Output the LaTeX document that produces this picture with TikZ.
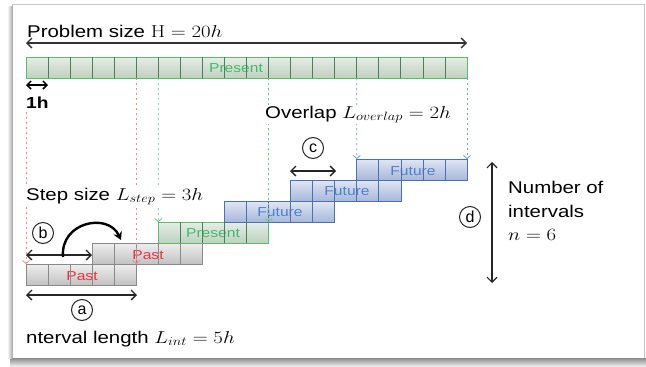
\documentclass[tikz,border=0pt]{standalone}
\usepackage[no-math]{fontspec}
\setmainfont{Liberation Sans}
\usetikzlibrary{arrows.meta,calc}
\definecolor{pastline}{HTML}{8A8A8A}
\definecolor{pasttop}{HTML}{EEEEEE}
\definecolor{pastbot}{HTML}{C2C2C2}
\definecolor{presline}{HTML}{5DBB6C}
\definecolor{prestop}{HTML}{E6EDE6}
\definecolor{presbot}{HTML}{BFD1BF}
\definecolor{presgrid}{HTML}{4A7F58}
\definecolor{futline}{HTML}{4B70B6}
\definecolor{futtop}{HTML}{E0E6F3}
\definecolor{futbot}{HTML}{A8B8DA}
\definecolor{pasttxt}{HTML}{E8343E}
\definecolor{prestxt}{HTML}{3DBB6A}
\definecolor{futtxt}{HTML}{4F7FCF}
\definecolor{reddash}{HTML}{F08A8A}
\definecolor{greendash}{HTML}{6CC490}
\definecolor{bluedash}{HTML}{6FA0D8}
\newcommand\wide[1]{\scalebox{1.2}[1]{#1}}
\def\cw{22.05}
\newcommand\cellgrid[3]{\foreach \k in {1,...,#2}{\draw[#3] ($(#1.north west)+(\k*\cw,0)$) -- ($(#1.south west)+(\k*\cw,0)$);}}
\begin{document}
\begin{tikzpicture}[x=1pt,y=-1pt,
  cellbox/.style={rectangle,inner sep=0pt,outer sep=0pt,anchor=north west,minimum width=110.25pt,minimum height=21pt,line width=0.7pt},
  pastbox/.style={cellbox,draw=pastline,top color=pasttop,bottom color=pastbot},
  presbox/.style={cellbox,draw=presline,top color=prestop,bottom color=presbot},
  futbox/.style={cellbox,draw=futline,top color=futtop,bottom color=futbot},
  bartxt/.style={font=\fontsize{13}{15}\selectfont,inner sep=0pt},
  lbl/.style={font=\fontsize{17}{20}\selectfont,anchor=base west,inner sep=1pt,fill=white},
  circ/.style={circle,draw=black!85,line width=1pt,minimum size=21pt,inner sep=0pt,font=\fontsize{16}{16}\selectfont},
  dbl/.style={{Straight Barb[length=5pt,width=10pt]}-{Straight Barb[length=5pt,width=10pt]},line width=1.4pt,draw=black!85},
  vline/.style={line width=0.8pt,dash pattern=on 2pt off 3pt,-{Straight Barb[length=3pt,width=7pt]}}
]
\useasboundingbox (0,0) rectangle (646,367);
% frame
\fill[white] (0,0) rectangle (646,367);
\shade[top color=black!45,bottom color=black!8] (10,358) rectangle (646,366);
\shade[left color=black!5,right color=black!30] (8,6) rectangle (12,358);
\draw[black!22,line width=1pt] (12,4.5) -- (644,4.5) -- (644,358);
\draw[black!30,line width=0.8pt] (12,4.5) -- (12,358);

% top bar
\node[cellbox,minimum width=441pt,draw=presline,top color=prestop,bottom color=presbot] (bar) at (26,57) {};
\node[bartxt,text=prestxt] (barlbl) at (236,68) {\wide{Present}};
\cellgrid{bar}{19}{presgrid,line width=0.8pt}

% intervals
\node[pastbox] (i1) at (26,264) {};
\node[pastbox] (i2) at (92.15,243) {};
\node[presbox] (i3) at (158.3,222) {};
\node[futbox] (i4) at (224.45,201) {};
\node[futbox] (i5) at (290.6,180) {};
\node[futbox] (i6) at (356.75,159) {};
\node[bartxt,text=pasttxt] (l1) at (82,276) {\wide{Past}};
\node[bartxt,text=pasttxt] (l2) at (148,255) {\wide{Past}};
\node[bartxt,text=prestxt] (l3) at (213,233) {\wide{Present}};
\node[bartxt,text=futtxt] (l4) at (280,212) {\wide{Future}};
\node[bartxt,text=futtxt] (l5) at (347,191) {\wide{Future}};
\node[bartxt,text=futtxt] (l6) at (413,171) {\wide{Future}};
\cellgrid{i1}{4}{pastline,line width=0.7pt}
\cellgrid{i2}{4}{pastline,line width=0.7pt}
\cellgrid{i3}{4}{presgrid,line width=0.7pt}
\cellgrid{i4}{4}{futline,line width=0.7pt}
\cellgrid{i5}{4}{futline,line width=0.7pt}
\cellgrid{i6}{4}{futline,line width=0.7pt}

% alignment lines
\coordinate (r1) at (26,112);
\path ($(bar.south west)+(5*\cw,0)$) coordinate (r2);
\path ($(bar.south west)+(6*\cw,0)$) coordinate (g1);
\path ($(bar.south west)+(11*\cw,0)$) coordinate (g2);
\path ($(bar.south west)+(15*\cw,0)$) coordinate (b1);
\draw[vline,reddash] (r1) -- (i1.north west);
\draw[vline,reddash] (r2) -- (i1.north east);
\draw[vline,greendash] (g1) -- (i3.north west);
\draw[vline,greendash] (g2) -- (i3.north east);
\draw[vline,bluedash] (b1) -- (i6.north west);
\draw[vline,bluedash] (bar.south east) -- (i6.north east);

% labels
\node[lbl] (tprob) at (26,37) {\wide{Problem size $\mathrm{H}=20h$}};
\node[lbl,font=\fontsize{16}{18}\selectfont\bfseries] (t1h) at (25,108) {\wide{1h}};
\node[lbl] (tover) at (264,118) {\wide{Overlap $L_{overlap}=2h$}};
\node[lbl] (tstep) at (25,200) {\wide{Step size $L_{step}=3h$}};
\node[lbl] (tint) at (25,343) {\wide{nterval length $L_{int}=5h$}};
\node[lbl] (tnum) at (507,193) {\wide{Number of}};
\node[lbl] (tintv) at (507,217) {\wide{intervals}};
\node[lbl] (tn) at (507,240) {\wide{$n=6$}};

% circled letters
\node[circ] (ca) at (82,310) {a};
\node[circ] (cb) at (43,233) {b};
\node[circ] (cc) at (313,148) {c};
\node[circ] (cd) at (470,217) {d};

% arrows
\coordinate (pl) at (26,43);
\coordinate (pr) at (467,43);
\draw[dbl,line width=1.3pt,draw=black!80] (pl) -- (pr);
\coordinate (hl) at (26,85);
\coordinate (hr) at (48,85);
\draw[{Straight Barb[length=4pt,width=8pt]}-{Straight Barb[length=4pt,width=8pt]},line width=1.5pt] (hl) -- (hr);
\coordinate (bl) at (26,255);
\coordinate (br) at (92,255);
\draw[dbl] (bl) -- (br);
\coordinate (al) at (26,295);
\coordinate (ar) at (137,295);
\draw[dbl] (al) -- (ar);
\coordinate (cl) at (290,171);
\coordinate (cr) at (336,171);
\draw[dbl] (cl) -- (cr);
\coordinate (dt) at (492,162);
\coordinate (db) at (492,283);
\draw[dbl,line width=1.2pt] (dt) -- (db);
\coordinate (cs) at (63,257);
\coordinate (ce) at (121,240);
\draw[line width=2.4pt,-{Stealth[length=8pt,width=9pt]}] (cs) .. controls (60,222) and (108,212) .. (ce);
\end{tikzpicture}
\end{document}
